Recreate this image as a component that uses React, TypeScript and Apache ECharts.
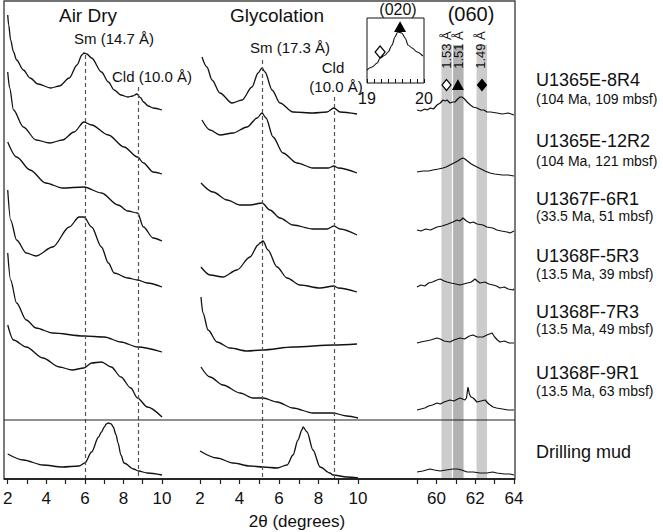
import React, { useEffect, useRef } from 'react';
import * as echarts from 'echarts';

const FONT = '"Liberation Sans", Arial, Helvetica, sans-serif';

// ---- Sample labels ----
const sampleNames = ['U1365E-8R4', 'U1365E-12R2', 'U1367F-6R1', 'U1368F-5R3', 'U1368F-7R3', 'U1368F-9R1', 'Drilling mud'];
const sampleInfo = ['(104 Ma, 109 mbsf)', '(104 Ma, 121 mbsf)', '(33.5 Ma, 51 mbsf)', '(13.5 Ma, 39 mbsf)', '(13.5 Ma, 49 mbsf)', '(13.5 Ma, 63 mbsf)', ''];
// vertical offset of each stacked pattern (intensity units)
const traceOffsets = [359, 299, 234, 184, 124, 59, 0];

// ---- Air dry patterns [2θ, intensity] ----
const airDry8R4 = [[2.0, 105], [2.05, 95], [2.15, 80], [2.3, 68], [2.46, 60], [2.81, 50], [3.16, 42], [3.57, 36], [4.23, 32], [4.68, 34], [5.19, 42], [5.59, 55], [5.85, 65], [5.95, 67], [6.1, 66], [6.35, 62], [6.86, 48], [7.22, 38], [7.52, 30], [7.87, 25], [8.23, 23], [8.48, 24], [8.7, 26], [8.9, 22], [9.04, 18], [9.29, 14], [9.54, 12], [10.0, 10]];
const airDry12R2 = [[2.0, 108], [2.1, 92], [2.3, 70], [2.81, 53], [3.47, 40], [4.18, 37], [4.84, 40], [5.44, 48], [5.95, 58], [6.35, 55], [7.22, 45], [8.03, 33], [8.73, 23], [9.04, 17], [9.54, 8], [10.0, 6]];
const airDry6R1 = [[2.0, 103], [2.46, 88], [3.16, 75], [3.97, 62], [4.84, 57], [5.95, 58], [6.86, 52], [7.72, 40], [8.23, 34], [8.73, 32], [9.04, 18], [9.54, 7], [10.0, 4]];
const airDry5R3 = [[2.0, 105], [2.15, 75], [2.46, 55], [2.96, 42], [3.47, 39], [4.33, 48], [5.19, 68], [5.7, 78], [5.95, 78], [6.35, 68], [6.86, 48], [7.22, 32], [7.52, 22], [8.23, 17], [8.73, 15], [9.24, 12], [10.0, 8]];
const airDry7R3 = [[2.0, 102], [2.15, 75], [2.46, 52], [2.96, 35], [3.47, 27], [4.33, 22], [5.95, 19], [7.01, 18], [7.87, 13], [8.73, 8], [10.0, 3]];
const airDry9R1 = [[2.0, 95], [2.3, 80], [2.96, 73], [3.82, 62], [4.68, 53], [5.34, 50], [5.95, 52], [6.35, 57], [6.86, 58], [7.37, 53], [7.87, 43], [8.38, 32], [8.73, 22], [9.24, 13], [10.0, 3]];
const airDryMud = [[2.0, 25], [2.81, 19], [3.82, 14], [4.84, 12], [5.7, 13], [6.0, 16], [6.35, 27], [6.71, 42], [6.86, 47], [7.01, 52], [7.11, 55], [7.22, 56], [7.37, 55], [7.47, 52], [7.62, 44], [7.72, 36], [7.87, 24], [8.03, 16], [8.53, 10], [8.78, 8], [9.24, 6], [10.0, 4]];

// ---- Glycolated patterns ----
const glyc8R4 = [[2.1, 63], [2.35, 53], [2.61, 40], [3.01, 27], [3.62, 17], [4.13, 20], [4.63, 33], [4.94, 47], [5.14, 52], [5.29, 48], [5.65, 30], [6.05, 17], [6.71, 8], [7.72, 7], [8.43, 8], [8.78, 12], [9.09, 8], [9.95, 6]];
const glyc12R2 = [[2.1, 60], [2.51, 50], [3.01, 45], [3.67, 47], [4.38, 53], [4.89, 62], [5.14, 67], [5.34, 62], [5.7, 43], [6.2, 27], [6.91, 17], [7.72, 12], [8.5, 12], [8.78, 14], [9.0, 12], [9.95, 7]];
const glyc6R1 = [[2.05, 62], [2.66, 53], [3.37, 45], [4.03, 40], [4.53, 40], [5.14, 42], [5.54, 35], [6.05, 27], [6.71, 20], [7.72, 16], [8.43, 16], [8.78, 19], [9.09, 16], [9.95, 10]];
const glyc5R3 = [[2.05, 28], [2.51, 20], [3.16, 18], [3.87, 25], [4.53, 38], [4.94, 50], [5.04, 52], [5.19, 54], [5.44, 45], [5.9, 28], [6.41, 17], [7.06, 10], [8.08, 7], [8.78, 9], [9.0, 7], [9.95, 3]];
const glyc7R3 = [[2.05, 58], [2.15, 42], [2.41, 25], [2.86, 13], [3.52, 7], [4.38, 4], [5.14, 5], [6.71, 8], [8.78, 10], [9.95, 11]];
const glyc9R1 = [[2.05, 53], [2.51, 43], [3.16, 35], [4.03, 27], [4.68, 22], [5.19, 22], [5.9, 18], [6.71, 12], [7.72, 7], [8.73, 7], [9.44, 4], [10.0, 2]];
const glycMud = [[2.0, 28], [2.86, 21], [3.67, 16], [4.53, 13], [5.19, 12], [5.9, 11], [6.41, 14], [6.71, 24], [6.96, 39], [7.16, 49], [7.22, 52], [7.42, 47], [7.72, 29], [8.08, 12], [8.58, 6], [8.73, 4], [9.44, 2], [10.0, 1]];

// ---- (060) region ----
const r060_8R4 = [[59.0, 10], [59.2, 9], [59.4, 11], [59.52, 10], [59.7, 12], [59.85, 11], [60.03, 15], [60.2, 17], [60.34, 20], [60.45, 19], [60.55, 20], [60.7, 17], [60.85, 18], [60.96, 18], [61.1, 21], [61.22, 23], [61.32, 23], [61.45, 21], [61.58, 18], [61.75, 15], [61.89, 13], [62.09, 12], [62.3, 10], [62.45, 10], [62.61, 8], [62.8, 8], [63.12, 7], [63.4, 6], [63.7, 7], [64.0, 5]];
const r060_12R2 = [[59.0, 8], [59.3, 9], [59.6, 9], [59.82, 10], [60.1, 11], [60.34, 12], [60.5, 13], [60.7, 15], [60.9, 17], [61.1, 19], [61.25, 21], [61.37, 22], [61.47, 21], [61.6, 19], [61.8, 16], [62.09, 13], [62.3, 11], [62.5, 9], [62.76, 7], [63.0, 6], [63.4, 5], [63.7, 5], [64.0, 4]];
const r060_6R1 = [[59.0, 15], [59.2, 14], [59.45, 16], [59.7, 15], [60.03, 18], [60.3, 19], [60.6, 21], [60.85, 23], [61.06, 25], [61.2, 24], [61.37, 27], [61.55, 24], [61.73, 22], [61.9, 23], [62.1, 21], [62.4, 20], [62.6, 18], [62.9, 17], [63.12, 15], [63.35, 14], [63.64, 13], [63.8, 12], [64.0, 14]];
const r060_5R3 = [[59.0, 8], [59.2, 10], [59.4, 9], [59.6, 12], [59.8, 13], [60.03, 15], [60.2, 16], [60.4, 14], [60.55, 13], [60.75, 12], [61.0, 11], [61.22, 10], [61.4, 11], [61.6, 12], [61.8, 13], [61.99, 16], [62.1, 14], [62.25, 12], [62.5, 13], [62.7, 11], [62.92, 10], [63.1, 9], [63.28, 7], [63.5, 8], [63.7, 6], [63.95, 5], [64.0, 6]];
const r060_7R3 = [[59.0, 12], [59.2, 13], [59.45, 14], [59.7, 15], [60.03, 17], [60.2, 16], [60.4, 14], [60.7, 13], [60.9, 15], [61.22, 17], [61.45, 16], [61.7, 19], [61.89, 20], [62.1, 18], [62.4, 18], [62.6, 20], [62.87, 22], [63.0, 18], [63.15, 15], [63.28, 13], [63.5, 14], [63.75, 12], [64.0, 12]];
const r060_9R1 = [[59.0, 10], [59.2, 11], [59.4, 12], [59.6, 14], [59.8, 15], [60.03, 17], [60.2, 16], [60.4, 18], [60.7, 20], [60.9, 19], [61.1, 21], [61.22, 22], [61.35, 21], [61.47, 20], [61.55, 22], [61.63, 33], [61.7, 26], [61.78, 23], [61.9, 22], [62.09, 18], [62.3, 19], [62.51, 20], [62.7, 16], [62.92, 13], [63.1, 12], [63.4, 11], [63.7, 10], [64.0, 10]];
const r060_Mud = [[59.0, 7], [59.3, 8], [59.67, 10], [59.9, 9], [60.19, 8], [60.5, 9], [60.86, 10], [61.1, 10], [61.3, 9], [61.58, 7], [61.9, 7], [62.25, 6], [62.6, 6], [62.9, 7], [63.12, 6], [63.5, 5], [63.8, 5], [64.0, 4]];

// ---- (020) inset ----
const inset020 = [[19.0, 13], [19.09, 16], [19.18, 20], [19.23, 25], [19.32, 28], [19.37, 31], [19.44, 38], [19.49, 46], [19.54, 51], [19.61, 50], [19.67, 45], [19.72, 38], [19.79, 35], [19.88, 31], [19.98, 27]];
const insetMarkers = [[19.23, 31], [19.58, 56]];

// ---- reference positions ----
const airDryRefs = [6.0, 8.75];      // Sm 14.7 Å, Cld 10.0 Å
const glycRefs = [5.15, 8.8];        // Sm 17.3 Å, Cld 10.0 Å
const bandRanges = [[60.26, 60.8], [60.86, 61.4], [62.07, 62.61]]; // 1.53, 1.51, 1.49 Å
const bandLabels = ['1.53 Å', '1.51 Å', '1.49 Å'];
const bandMarkerX = [60.52, 61.11, 62.35];

const airDryTraces = [airDry8R4, airDry12R2, airDry6R1, airDry5R3, airDry7R3, airDry9R1, airDryMud];
const glycTraces = [glyc8R4, glyc12R2, glyc6R1, glyc5R3, glyc7R3, glyc9R1, glycMud];
const r060Traces = [r060_8R4, r060_12R2, r060_6R1, r060_5R3, r060_7R3, r060_9R1, r060_Mud];

function buildOption() {
  const lineSeries = (data: number[][], axis: number, offset: number, smooth: number | boolean, extra: any = {}) => ({
    type: 'line',
    xAxisIndex: axis,
    yAxisIndex: axis,
    data: data.map(([x, y]) => [x, y + offset]),
    showSymbol: false,
    symbol: 'none',
    smooth,
    smoothMonotone: 'x',
    lineStyle: { color: '#111', width: 1.3 },
    z: 3,
    silent: true,
    ...extra,
  });

  const dashed = (xs: number[], tops: number[]) => ({
    silent: true,
    symbol: ['none', 'none'],
    label: { show: false },
    lineStyle: { type: [4, 3], color: '#555', width: 1.2 },
    data: xs.map((x, i) => [{ coord: [x, tops[i]] }, { coord: [x, 0] }]),
  });

  const bottomAxis = (gi: number, min: number, max: number) => ({
    type: 'value',
    gridIndex: gi,
    min,
    max,
    interval: 1,
    axisLine: { show: false },
    splitLine: { show: false },
    axisTick: { show: true, inside: false, length: 5, lineStyle: { color: '#222', width: 1.2 } },
    axisLabel: {
      show: true,
      margin: 11,
      fontSize: 17,
      color: '#111',
      fontFamily: FONT,
      showMinLabel: true,
      showMaxLabel: true,
      hideOverlap: false,
      formatter: (v: number) => (Math.round(v) % 2 === 0 ? String(Math.round(v)) : ''),
    },
  });

  const hiddenY = (gi: number, max: number) => ({ type: 'value', gridIndex: gi, min: 0, max, show: false });

  const series: any[] = [];
  // dummy series holding the gray bands
  series.push({
    type: 'line',
    xAxisIndex: 2,
    yAxisIndex: 2,
    data: [[59, 0]],
    showSymbol: false,
    symbol: 'none',
    lineStyle: { opacity: 0 },
    z: 1,
    silent: true,
    markArea: {
      silent: true,
      label: { show: false },
      data: bandRanges.map((r, i) => [
        { xAxis: r[0], yAxis: 434, itemStyle: { color: i === 1 ? '#b3b3b3' : '#cccccc' } },
        { xAxis: r[1], yAxis: 0 },
      ]),
    },
  });

  airDryTraces.forEach((t, i) => {
    series.push(lineSeries(t, 0, traceOffsets[i], 0.3, i === 0 ? { markLine: dashed(airDryRefs, [424, 392]) } : {}));
  });
  glycTraces.forEach((t, i) => {
    series.push(lineSeries(t, 1, traceOffsets[i], 0.3, i === 0 ? { markLine: dashed(glycRefs, [419, 382]) } : {}));
  });
  r060Traces.forEach((t, i) => {
    series.push(lineSeries(t, 2, traceOffsets[i], false, { lineStyle: { color: '#111', width: 1.2 } }));
  });
  series.push(lineSeries(inset020, 3, 0, 0.3, { lineStyle: { color: '#111', width: 1.1 } }));

  // markers
  const mk = (axis: number, pt: number[], symbol: string, fill: string, size: number) => ({
    type: 'scatter',
    xAxisIndex: axis,
    yAxisIndex: axis,
    data: [pt],
    symbol,
    symbolSize: size,
    itemStyle: { color: fill, borderColor: '#000', borderWidth: 1.2, opacity: 1 },
    z: 5,
    silent: true,
  });
  series.push(mk(2, [bandMarkerX[0], 394], 'diamond', '#ffffff', [9, 11]));
  series.push(mk(2, [bandMarkerX[1], 394], 'triangle', '#000000', [10, 9]));
  series.push(mk(2, [bandMarkerX[2], 394], 'diamond', '#000000', [9, 11]));
  series.push(mk(3, insetMarkers[0], 'diamond', '#ffffff', [10, 12]));
  series.push(mk(3, insetMarkers[1], 'triangle', '#000000', [10, 9]));

  const txt = (text: string, x: number, y: number, size: number, align = 'center', extra: any = {}) => ({
    type: 'text',
    x,
    y,
    z: 20,
    silent: true,
    style: { text, fill: '#111', fontSize: size, fontFamily: FONT, align, verticalAlign: 'middle' },
    ...extra,
  });

  const nameY = [80, 141, 199, 256, 312, 373, 452];
  const infoY = [99, 161, 216, 274, 329, 391];

  const graphics: any[] = [
    { type: 'rect', z: 15, silent: true, shape: { x: 4, y: 1, width: 511, height: 478 }, style: { fill: 'none', stroke: '#444', lineWidth: 1.4 } },
    { type: 'line', z: 15, silent: true, shape: { x1: 4, y1: 479, x2: 515, y2: 479 }, style: { stroke: '#111', lineWidth: 1.4 } },
    { type: 'line', z: 15, silent: true, shape: { x1: 4, y1: 420, x2: 515, y2: 420 }, style: { stroke: '#222', lineWidth: 1.2 } },
    txt('Air Dry', 88, 15, 19),
    txt('Glycolation', 277, 15, 19),
    txt('(060)', 471, 14, 20),
    txt('(020)', 398, 9, 16),
    txt('Sm (14.7 Å)', 114, 38, 15),
    txt('Cld (10.0 Å)', 152, 76, 15),
    txt('Sm (17.3 Å)', 290, 47, 15),
    txt('Cld', 333, 67, 15),
    txt('(10.0 Å)', 336, 86, 15),
    txt('2θ (degrees)', 297, 521, 17),
  ];
  bandLabels.forEach((l, i) => {
    const xs = [446, 458, 480];
    graphics.push(txt(l, xs[i], 50, 13, 'center', { rotation: Math.PI / 2 }));
  });
  sampleNames.forEach((n, i) => graphics.push(txt(n, 536, nameY[i], 18, 'left')));
  sampleInfo.forEach((n, i) => {
    if (n) graphics.push(txt(n, 536, infoY[i], 14, 'left'));
  });

  return {
    animation: false,
    backgroundColor: '#ffffff',
    textStyle: { fontFamily: FONT },
    grid: [
      { left: 4, top: 1, width: 158, height: 478 },
      { left: 200, top: 1, width: 158, height: 478 },
      { left: 417, top: 1, width: 97, height: 478 },
      { left: 367, top: 18, width: 57, height: 65, show: true, borderColor: '#111', borderWidth: 1, backgroundColor: 'transparent' },
    ],
    xAxis: [
      bottomAxis(0, 2, 10),
      bottomAxis(1, 2, 10),
      bottomAxis(2, 59, 64),
      {
        type: 'value',
        gridIndex: 3,
        min: 19,
        max: 20,
        interval: 0.125,
        axisLine: { show: false },
        splitLine: { show: false },
        axisTick: { show: true, inside: true, length: 4, lineStyle: { color: '#111', width: 1 } },
        axisLabel: {
          show: true,
          margin: 7,
          fontSize: 16,
          color: '#111',
          fontFamily: FONT,
          showMinLabel: true,
          showMaxLabel: true,
          hideOverlap: false,
          formatter: (v: number) => (Math.abs(v - 19) < 1e-6 ? '19' : Math.abs(v - 20) < 1e-6 ? '20' : ''),
        },
      },
    ],
    yAxis: [hiddenY(0, 478), hiddenY(1, 478), hiddenY(2, 478), hiddenY(3, 65)],
    series,
    graphic: graphics,
  };
}

export default function App() {
  const ref = useRef<HTMLDivElement>(null);
  useEffect(() => {
    if (!ref.current) return;
    const chart = echarts.init(ref.current, null, { renderer: 'svg' });
    chart.setOption(buildOption() as any);
    return () => chart.dispose();
  }, []);
  return <div ref={ref} style={{ position: 'absolute', left: 0, top: 0, width: 663, height: 532, background: '#fff' }} />;
}
